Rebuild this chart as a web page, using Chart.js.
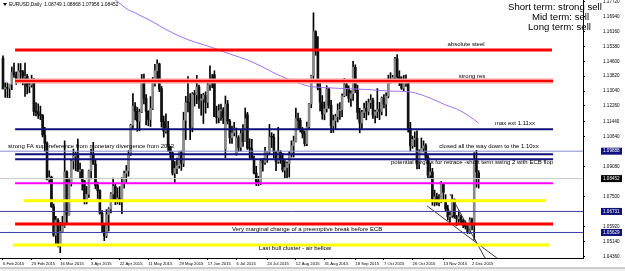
<!DOCTYPE html>
<html><head><meta charset="utf-8">
<style>html,body{margin:0;padding:0;background:#fff;overflow:hidden}canvas{display:block}</style>
<script src="https://cdn.jsdelivr.net/npm/chart.js@4.4.0/dist/chart.umd.min.js"></script>
</head><body>
<canvas id="c" width="625" height="271"></canvas>
<script>
// ---------- DATA ----------
const dates = ("6 Feb 2015|9 Feb 2015|10 Feb 2015|11 Feb 2015|12 Feb 2015|13 Feb 2015|16 Feb 2015|17 Feb 2015|18 Feb 2015|19 Feb 2015|20 Feb 2015|23 Feb 2015|24 Feb 2015|25 Feb 2015|26 Feb 2015|27 Feb 2015|" +
"2 Mar 2015|3 Mar 2015|4 Mar 2015|5 Mar 2015|6 Mar 2015|9 Mar 2015|10 Mar 2015|11 Mar 2015|12 Mar 2015|13 Mar 2015|16 Mar 2015|17 Mar 2015|18 Mar 2015|19 Mar 2015|20 Mar 2015|23 Mar 2015|24 Mar 2015|25 Mar 2015|26 Mar 2015|27 Mar 2015|30 Mar 2015|31 Mar 2015|" +
"1 Apr 2015|2 Apr 2015|3 Apr 2015|6 Apr 2015|7 Apr 2015|8 Apr 2015|9 Apr 2015|10 Apr 2015|13 Apr 2015|14 Apr 2015|15 Apr 2015|16 Apr 2015|17 Apr 2015|20 Apr 2015|21 Apr 2015|22 Apr 2015|23 Apr 2015|24 Apr 2015|27 Apr 2015|28 Apr 2015|29 Apr 2015|30 Apr 2015|" +
"1 May 2015|4 May 2015|5 May 2015|6 May 2015|7 May 2015|8 May 2015|11 May 2015|12 May 2015|13 May 2015|14 May 2015|15 May 2015|18 May 2015|19 May 2015|20 May 2015|21 May 2015|22 May 2015|25 May 2015|26 May 2015|27 May 2015|28 May 2015|29 May 2015|" +
"1 Jun 2015|2 Jun 2015|3 Jun 2015|4 Jun 2015|5 Jun 2015|8 Jun 2015|9 Jun 2015|10 Jun 2015|11 Jun 2015|12 Jun 2015|15 Jun 2015|16 Jun 2015|17 Jun 2015|18 Jun 2015|19 Jun 2015|22 Jun 2015|23 Jun 2015|24 Jun 2015|25 Jun 2015|26 Jun 2015|29 Jun 2015|30 Jun 2015|" +
"1 Jul 2015|2 Jul 2015|3 Jul 2015|6 Jul 2015|7 Jul 2015|8 Jul 2015|9 Jul 2015|10 Jul 2015|13 Jul 2015|14 Jul 2015|15 Jul 2015|16 Jul 2015|17 Jul 2015|20 Jul 2015|21 Jul 2015|22 Jul 2015|23 Jul 2015|24 Jul 2015|27 Jul 2015|28 Jul 2015|29 Jul 2015|30 Jul 2015|31 Jul 2015|" +
"3 Aug 2015|4 Aug 2015|5 Aug 2015|6 Aug 2015|7 Aug 2015|10 Aug 2015|11 Aug 2015|12 Aug 2015|13 Aug 2015|14 Aug 2015|17 Aug 2015|18 Aug 2015|19 Aug 2015|20 Aug 2015|21 Aug 2015|24 Aug 2015|25 Aug 2015|26 Aug 2015|27 Aug 2015|28 Aug 2015|31 Aug 2015|" +
"1 Sep 2015|2 Sep 2015|3 Sep 2015|4 Sep 2015|7 Sep 2015|8 Sep 2015|9 Sep 2015|10 Sep 2015|11 Sep 2015|14 Sep 2015|15 Sep 2015|16 Sep 2015|17 Sep 2015|18 Sep 2015|21 Sep 2015|22 Sep 2015|23 Sep 2015|24 Sep 2015|25 Sep 2015|28 Sep 2015|29 Sep 2015|30 Sep 2015|" +
"1 Oct 2015|2 Oct 2015|5 Oct 2015|6 Oct 2015|7 Oct 2015|8 Oct 2015|9 Oct 2015|12 Oct 2015|13 Oct 2015|14 Oct 2015|15 Oct 2015|16 Oct 2015|19 Oct 2015|20 Oct 2015|21 Oct 2015|22 Oct 2015|23 Oct 2015|26 Oct 2015|27 Oct 2015|28 Oct 2015|29 Oct 2015|30 Oct 2015|" +
"2 Nov 2015|3 Nov 2015|4 Nov 2015|5 Nov 2015|6 Nov 2015|9 Nov 2015|10 Nov 2015|11 Nov 2015|12 Nov 2015|13 Nov 2015|16 Nov 2015|17 Nov 2015|18 Nov 2015|19 Nov 2015|20 Nov 2015|23 Nov 2015|24 Nov 2015|25 Nov 2015|26 Nov 2015|27 Nov 2015|30 Nov 2015|" +
"1 Dec 2015|2 Dec 2015|3 Dec 2015|4 Dec 2015|7 Dec 2015").split('|');

const open = [
1.1476,1.1316,1.1322,1.1318,1.1339,1.1403,1.1388,1.1366,1.1410,1.1405,1.1376,1.1381,1.1328,1.1335,1.1365,1.1197,
1.1195,1.1183,1.1176,1.1074,1.1030,1.0840,1.0853,1.0699,1.0548,1.0628,1.0495,1.0568,1.0596,1.0880,1.0655,1.0820,1.0938,1.0962,1.0967,1.0884,1.0891,1.0832,
1.0732,1.0763,1.0886,1.0971,1.0921,1.0808,1.0782,1.0664,1.0600,1.0545,1.0656,1.0686,1.0765,1.0805,1.0737,1.0744,1.0729,1.0825,1.0873,1.0886,1.0976,1.1125,
1.1224,1.1198,1.1146,1.1194,1.1347,1.1266,1.1198,1.1155,1.1213,1.1344,1.1410,1.1446,1.1316,1.1144,1.1093,1.1108,1.1013,1.0980,1.0874,1.0898,1.0913,
1.0985,1.0925,1.1151,1.1244,1.1243,1.1114,1.1289,1.1285,1.1325,1.1256,1.1262,1.1282,1.1245,1.1337,1.1365,1.1390,1.1170,1.1165,1.1200,1.1205,1.1000,1.1236,
1.1146,1.1059,1.1084,1.0975,1.1059,1.1009,1.1081,1.1040,1.1180,1.1005,1.1001,1.0949,1.0874,1.0828,1.0826,1.0937,1.0930,1.0982,1.0983,1.1064,1.1062,1.0986,1.0935,
1.0984,1.0950,1.0890,1.0903,1.0924,1.0970,1.1017,1.1040,1.1160,1.1150,1.1104,1.1081,1.1028,1.1117,1.1237,1.1384,1.1615,1.1518,1.1318,1.1245,1.1183,
1.1211,1.1313,1.1229,1.1121,1.1149,1.1170,1.1202,1.1207,1.1279,1.1337,1.1316,1.1266,1.1290,1.1428,1.1309,1.1193,1.1136,1.1192,1.1212,1.1198,1.1243,1.1256,
1.1177,1.1195,1.1207,1.1197,1.1267,1.1236,1.1278,1.1357,1.1360,1.1375,1.1473,1.1380,1.1350,1.1319,1.1344,1.1344,1.1109,1.1017,1.1050,1.1056,1.0922,1.0985,
1.1004,1.1017,1.0956,1.0863,1.0880,1.0740,1.0750,1.0720,1.0723,1.0815,1.0730,1.0687,1.0645,1.0653,1.0735,1.0646,1.0635,1.0645,1.0623,1.0613,1.0594,
1.0565,1.0630,1.0612,1.0940,1.08749];
const high = [
1.1488,1.1347,1.1346,1.1340,1.1430,1.1450,1.1404,1.1448,1.1448,1.1412,1.1450,1.1392,1.1358,1.1387,1.1370,1.1243,
1.1237,1.1225,1.1181,1.1114,1.1038,1.0886,1.0858,1.0712,1.0648,1.0636,1.0615,1.0648,1.1043,1.0886,1.0848,1.0943,1.1000,1.0983,1.1052,1.0926,1.0893,1.0836,
1.0804,1.0890,1.1000,1.1035,1.0942,1.0827,1.0787,1.0678,1.0610,1.0683,1.0693,1.0772,1.0848,1.0816,1.0797,1.0803,1.0849,1.0885,1.0914,1.0992,1.1130,1.1290,
1.1244,1.1218,1.1209,1.1391,1.1393,1.1285,1.1201,1.1275,1.1375,1.1444,1.1467,1.1450,1.1329,1.1173,1.1185,1.1145,1.1015,1.0985,1.0935,1.0953,1.0987,
1.0990,1.1193,1.1276,1.1380,1.1290,1.1296,1.1307,1.1386,1.1335,1.1287,1.1292,1.1300,1.1353,1.1436,1.1391,1.1410,1.1225,1.1233,1.1235,1.1217,1.1278,1.1255,
1.1155,1.1120,1.1140,1.1110,1.1070,1.1100,1.1128,1.1215,1.1192,1.1054,1.1051,1.0963,1.0910,1.0857,1.0949,1.0952,1.1009,1.0987,1.1129,1.1086,1.1078,1.0990,1.1114,
1.0992,1.0977,1.0939,1.0933,1.0988,1.1043,1.1068,1.1214,1.1188,1.1162,1.1113,1.1095,1.1141,1.1240,1.1387,1.1714,1.1620,1.1589,1.1348,1.1280,1.1247,
1.1332,1.1320,1.1255,1.1178,1.1183,1.1237,1.1243,1.1289,1.1370,1.1354,1.1331,1.1306,1.1460,1.1441,1.1335,1.1214,1.1203,1.1241,1.1251,1.1262,1.1285,1.1267,
1.1204,1.1317,1.1245,1.1273,1.1285,1.1295,1.1387,1.1400,1.1386,1.1480,1.1495,1.1410,1.1379,1.1386,1.1389,1.1358,1.1140,1.1068,1.1090,1.1095,1.0996,1.1058,
1.1043,1.1028,1.0969,1.0927,1.0899,1.0785,1.0769,1.0761,1.0830,1.0815,1.0761,1.0706,1.0675,1.0761,1.0739,1.0653,1.0676,1.0654,1.0632,1.0624,1.0601,
1.0640,1.0639,1.0981,1.0993,1.08868];
const low = [
1.1315,1.1271,1.1270,1.1269,1.1311,1.1375,1.1339,1.1349,1.1368,1.1336,1.1276,1.1289,1.1295,1.1324,1.1176,1.1174,
1.1160,1.1154,1.1063,1.0988,1.0838,1.0820,1.0694,1.0543,1.0494,1.0487,1.0457,1.0567,1.0589,1.0613,1.0654,1.0806,1.0895,1.0886,1.0883,1.0845,1.0785,1.0712,
1.0713,1.0747,1.0844,1.0920,1.0792,1.0741,1.0659,1.0562,1.0520,1.0536,1.0570,1.0666,1.0734,1.0709,1.0712,1.0708,1.0661,1.0795,1.0819,1.0858,1.0967,1.1107,
1.1152,1.1093,1.1096,1.1191,1.1237,1.1127,1.1122,1.1118,1.1207,1.1330,1.1360,1.1301,1.1115,1.1062,1.1083,1.0988,1.0950,1.0864,1.0819,1.0871,1.0900,
1.0888,1.0908,1.1050,1.1195,1.1049,1.1090,1.1225,1.1238,1.1213,1.1177,1.1134,1.1188,1.1216,1.1307,1.1321,1.1174,1.1135,1.1137,1.1150,1.1133,1.0955,1.1131,
1.1030,1.1029,1.1069,1.0968,1.0987,1.0990,1.1014,1.1040,1.0998,1.0952,1.0947,1.0870,1.0809,1.0808,1.0814,1.0884,1.0919,1.0930,1.0970,1.1008,1.0954,1.0887,1.0925,
1.0925,1.0880,1.0849,1.0849,1.0853,1.0958,1.0958,1.1037,1.1104,1.1089,1.1058,1.1016,1.1018,1.1106,1.1216,1.1370,1.1491,1.1310,1.1200,1.1156,1.1153,
1.1194,1.1213,1.1086,1.1087,1.1107,1.1142,1.1155,1.1169,1.1274,1.1279,1.1245,1.1223,1.1255,1.1296,1.1157,1.1085,1.1105,1.1164,1.1153,1.1179,1.1213,1.1161,
1.1137,1.1164,1.1154,1.1179,1.1216,1.1174,1.1268,1.1346,1.1349,1.1360,1.1370,1.1332,1.1312,1.1306,1.1328,1.1088,1.0990,1.1004,1.1012,1.0896,1.0897,1.0985,
1.0985,1.0941,1.0849,1.0847,1.0706,1.0702,1.0706,1.0702,1.0718,1.0733,1.0674,1.0628,1.0617,1.0642,1.0637,1.0598,1.0616,1.0608,1.0588,1.0581,1.0557,
1.0558,1.0576,1.0524,1.0800,1.07956];
const close = [
1.1315,1.1322,1.1318,1.1339,1.1403,1.1388,1.1366,1.1410,1.1405,1.1376,1.1381,1.1328,1.1335,1.1365,1.1197,1.1195,
1.1183,1.1176,1.1074,1.1030,1.0840,1.0853,1.0699,1.0548,1.0628,1.0495,1.0568,1.0596,1.0880,1.0655,1.0820,1.0938,1.0962,1.0967,1.0884,1.0891,1.0832,1.0732,
1.0763,1.0886,1.0971,1.0921,1.0808,1.0782,1.0664,1.0600,1.0545,1.0656,1.0686,1.0765,1.0805,1.0737,1.0744,1.0729,1.0825,1.0873,1.0886,1.0976,1.1125,1.1224,
1.1198,1.1146,1.1194,1.1347,1.1266,1.1198,1.1155,1.1213,1.1344,1.1410,1.1446,1.1316,1.1144,1.1093,1.1108,1.1013,1.0980,1.0874,1.0898,1.0913,1.0985,
1.0925,1.1151,1.1244,1.1243,1.1114,1.1289,1.1285,1.1325,1.1256,1.1262,1.1282,1.1245,1.1337,1.1365,1.1350,1.1170,1.1165,1.1200,1.1205,1.1165,1.1236,1.1146,
1.1059,1.1084,1.1109,1.1059,1.1009,1.1081,1.1040,1.1159,1.1005,1.1001,1.0949,1.0874,1.0828,1.0826,1.0937,1.0930,1.0982,1.0983,1.1064,1.1062,1.0986,1.0935,1.0984,
1.0950,1.0890,1.0903,1.0924,1.0970,1.1017,1.1040,1.1160,1.1150,1.1104,1.1081,1.1028,1.1117,1.1237,1.1384,1.1615,1.1518,1.1318,1.1245,1.1183,1.1211,
1.1313,1.1229,1.1121,1.1149,1.1170,1.1202,1.1207,1.1279,1.1337,1.1316,1.1266,1.1290,1.1428,1.1309,1.1193,1.1136,1.1192,1.1212,1.1198,1.1243,1.1256,1.1177,
1.1195,1.1207,1.1197,1.1267,1.1236,1.1278,1.1357,1.1360,1.1375,1.1473,1.1380,1.1350,1.1319,1.1344,1.1344,1.1109,1.1017,1.1050,1.1056,1.0922,1.0985,1.1004,
1.1017,1.0956,1.0863,1.0880,1.0740,1.0750,1.0720,1.0723,1.0815,1.0773,1.0687,1.0645,1.0653,1.0735,1.0646,1.0635,1.0645,1.0623,1.0613,1.0594,1.0565,
1.0630,1.0612,1.0940,1.0880,1.08452];

// moving average (bar index, price)
const maIndex = [51,57,60,69,72,81,87,95,103,111,117,125,132,139,146,155,165,175,185,195,201,206,211,216];
const maValue = [1.1781,1.1729,1.1713,1.1660,1.1639,1.1587,1.1561,1.1532,1.1498,1.1467,1.1435,1.1388,1.1356,1.1329,1.1322,1.1317,1.1312,1.1304,1.1299,1.1262,1.1231,1.1210,1.1178,1.1136];

// wedge trendlines: [startIndex, startPrice, endIndex, endPrice]
const wedgeLines = [[192.6,1.0702,224.3,1.0429],[203.0,1.07645,218.9,1.0429]];

// horizontal levels
const levelPrices = [1.15190,1.13565,1.11035,1.09888,1.09725,1.09463,1.08452,1.08206,1.07294,1.06731,1.06073,1.05629,1.04973];

const xTickLabels = ['6 Feb 2015','25 Feb 2015','16 Mar 2015','3 Apr 2015','22 Apr 2015','11 May 2015','29 May 2015','17 Jun 2015','6 Jul 2015','24 Jul 2015','12 Aug 2015','31 Aug 2015','18 Sep 2015','7 Oct 2015','26 Oct 2015','13 Nov 2015','2 Dec 2015'];
const yTickLabels = ['1.17720','1.16940','1.16160','1.15380','1.14600','1.13820','1.13040','1.12260','1.11440','1.10640','1.09080','1.07500','1.05920','1.05140','1.04360'];
const priceTags = [1.09888,1.08452,1.06731,1.05629];

const noteTexts = ['absolute steel','strong res','max ext 1.11xx','strong FA sup -reference from monetary divergence from 2013','closed all the way down to the 1.10xx','potential targets for retrace -short term swing 2 with ECB flop','Very marginal change of a preemptive break before ECB','Last bull cluster - air bellow'];
const signalTexts = ['Short term: strong sell','Mid term: sell','Long term: sell'];

// ---------- PRESENTATION ----------
const X_MIN = -1.362, X_MAX = 263.4, Y_MIN = 1.04292, Y_MAX = 1.17809;
const FONT = '"Liberation Sans", Arial, Helvetica, sans-serif';
const levelStyle = [
  {from:5.5,to:249.3,color:'#ff0000',w:3},
  {from:5.5,to:249.8,color:'#ff0000',w:2,halo:'#ff9494'},
  {from:5.5,to:249.8,color:'#10107a',w:2},
  {full:true,color:'#8a8ad6',w:1},
  {from:5.5,to:249.8,color:'#10107a',w:2},
  {from:5.5,to:249.8,color:'#10107a',w:2},
  {full:true,color:'#c8c8c8',w:1},
  {from:5.5,to:249.8,color:'#ff00ff',w:2},
  {from:9.5,to:246.6,color:'#ffff00',w:3},
  {full:true,color:'#3c3ca8',w:1},
  {from:5.5,to:249.8,color:'#ff0000',w:3},
  {full:true,color:'#3c3ca8',w:1},
  {from:4.5,to:248,color:'#ffff00',w:3}
];
// note anchors: [bar index, price]
const noteAnchor = [[210.3,1.15504],[213.0,1.13827],[232.5,1.11365],[40.0,1.10160],[220.7,1.10160],[213.0,1.09322],[138.1,1.05812],[132.6,1.04816]];
const priceTagColors = ['#10107a','#000000','#10107a','#10107a'];
const signalPos = [[508,7],[532,17.5],[528,27.5]];

Chart.defaults.font.family = FONT;

const datasets = [];
levelPrices.forEach((p,k)=>{
  const s = levelStyle[k];
  const a = s.full ? X_MIN : s.from, b = s.full ? X_MAX : s.to;
  if (s.halo) datasets.push({type:'line',data:[{x:a,y:p},{x:b,y:p}],borderColor:s.halo,borderWidth:5,pointRadius:0,order:2});
  datasets.push({type:'line',data:[{x:a,y:p},{x:b,y:p}],borderColor:s.color,borderWidth:s.w,pointRadius:0,order:1});
});
datasets.push({type:'line',data:maIndex.map((x,k)=>({x,y:maValue[k]})),borderColor:'#a070f0',borderWidth:1,pointRadius:0,cubicInterpolationMode:'monotone',order:3});
wedgeLines.forEach(l=>{
  datasets.push({type:'line',data:[{x:l[0],y:l[1]},{x:l[2],y:l[3]}],borderColor:'#3a3a3a',borderWidth:1,pointRadius:0,order:1});
});
datasets.push({type:'bar',data:dates.map((d,i)=>({x:i,y:[low[i],high[i]]})),backgroundColor:'#000',barThickness:1,grouped:false,order:11});
datasets.push({type:'bar',data:dates.map((d,i)=>({x:i,y:[Math.min(open[i],close[i]),Math.max(open[i],close[i])]})),
  backgroundColor:ctx=>close[ctx.dataIndex]>=open[ctx.dataIndex]?'#8a8a8a':'#111',barThickness:2,minBarLength:1,grouped:false,order:10});

const overlay = {
  id:'overlay',
  afterDraw(chart){
    const {ctx, scales:{x,y}} = chart;
    ctx.save();
    ctx.textBaseline='middle';
    ctx.fillStyle='#000';
    ctx.textAlign='center';
    ctx.font='6px '+FONT;
    noteTexts.forEach((t,k)=>ctx.fillText(t, x.getPixelForValue(noteAnchor[k][0]), y.getPixelForValue(noteAnchor[k][1])));
    // price tags on the axis
    ctx.textAlign='left';
    ctx.font='4.6px '+FONT;
    priceTags.forEach((p,k)=>{
      const py = y.getPixelForValue(p);
      ctx.fillStyle=priceTagColors[k];
      ctx.fillRect(601, py-3.5, 21, 7);
      ctx.fillStyle='#fff';
      ctx.fillText(p.toFixed(5), 603, py);
    });
    // header
    const n = close.length-1;
    ctx.fillStyle='#000';
    ctx.beginPath(); ctx.moveTo(3,3); ctx.lineTo(7,3); ctx.lineTo(5,6); ctx.closePath(); ctx.fill();
    ctx.font='4.85px '+FONT;
    ctx.fillText('EURUSD,Daily  '+open[n].toFixed(5)+' '+high[n].toFixed(5)+' '+low[n].toFixed(5)+' '+close[n].toFixed(5), 9, 4.5);
    // signals
    ctx.font='9.6px '+FONT;
    signalTexts.forEach((t,k)=>ctx.fillText(t, signalPos[k][0], signalPos[k][1]));
    // bottom tab bar
    ctx.fillStyle='#f0f0f0'; ctx.fillRect(0,268,625,3);
    ctx.fillStyle='#a0a0a0'; ctx.fillRect(0,267.5,625,1);
    ctx.restore();
  }
};

new Chart(document.getElementById('c'), {
  type:'bar',
  data:{datasets},
  options:{
    responsive:false, animation:false, devicePixelRatio:1, events:[],
    layout:{padding:0, autoPadding:false},
    plugins:{legend:{display:false}, tooltip:{enabled:false}},
    scales:{
      x:{type:'linear', min:X_MIN, max:X_MAX, offset:false, bounds:'data',
        afterBuildTicks:s=>{ s.ticks = xTickLabels.map(l=>({value:dates.indexOf(l)})); },
        ticks:{callback:v=>dates[v], align:'start', maxRotation:0, minRotation:0, autoSkip:false, font:{size:4.2}, color:'#000', padding:1},
        grid:{drawOnChartArea:false, offset:false, tickLength:2, color:'#000'},
        border:{color:'#000'},
        afterFit:s=>{ s.height=13; s.paddingLeft=0; s.paddingRight=0; }
      },
      y:{type:'linear', position:'right', min:Y_MIN, max:Y_MAX, bounds:'data',
        afterBuildTicks:s=>{ s.ticks = yTickLabels.map(v=>({value:parseFloat(v)})).reverse(); },
        ticks:{callback:v=>Number(v).toFixed(5), autoSkip:false, font:{size:4.6}, color:'#000', padding:18},
        grid:{drawOnChartArea:false, tickLength:2, color:'#000'},
        border:{color:'#000'},
        afterFit:s=>{ s.width=42; s.paddingTop=0; s.paddingBottom=0; }
      }
    }
  },
  plugins:[overlay]
});
</script>
</body></html>
